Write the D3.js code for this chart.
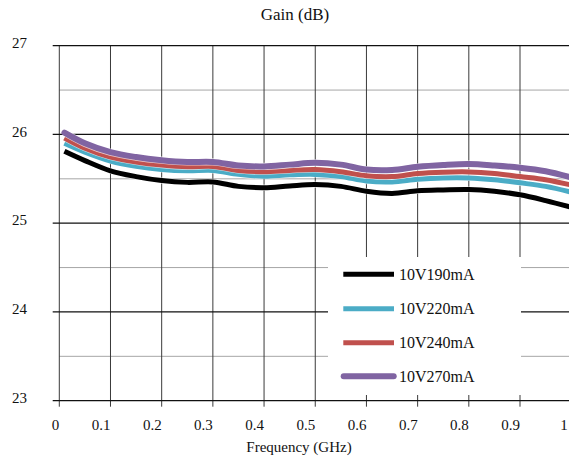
<!DOCTYPE html>
<html>
<head>
<meta charset="utf-8">
<script src="https://cdn.jsdelivr.net/npm/d3@7"></script>
<style>
  html, body { margin: 0; padding: 0; background: #fff; }
  svg { display: block; }
  svg text { font-family: "Liberation Serif", "DejaVu Serif", "Times New Roman", serif; }
</style>
</head>
<body>
<svg id="chart" width="569" height="466" font-family="Liberation Serif, DejaVu Serif, serif"></svg>
<script>
// Frequency sweep points (GHz)
const freq = [0.01, 0.05, 0.1, 0.15, 0.2, 0.25, 0.3, 0.35, 0.4, 0.45, 0.5,
              0.55, 0.6, 0.65, 0.7, 0.75, 0.8, 0.85, 0.9, 0.95, 1.0];

// Gain (dB) per bias condition
const gain190 = [25.81, 25.705, 25.59, 25.525, 25.48, 25.46, 25.465, 25.415, 25.40, 25.42, 25.435,
                 25.415, 25.36, 25.335, 25.365, 25.375, 25.38, 25.36, 25.32, 25.255, 25.18];
const gain220 = [25.90, 25.80, 25.70, 25.64, 25.605, 25.59, 25.595, 25.55, 25.53, 25.545, 25.55,
                 25.527, 25.475, 25.465, 25.495, 25.51, 25.51, 25.49, 25.455, 25.415, 25.35];
const gain240 = [25.96, 25.845, 25.745, 25.69, 25.655, 25.635, 25.64, 25.595, 25.58, 25.595, 25.605,
                 25.58, 25.535, 25.525, 25.56, 25.575, 25.578, 25.56, 25.525, 25.49, 25.43];
const gain270 = [26.02, 25.90, 25.80, 25.745, 25.71, 25.69, 25.69, 25.65, 25.64, 25.66, 25.68,
                 25.66, 25.605, 25.60, 25.635, 25.655, 25.666, 25.65, 25.625, 25.585, 25.515];

const seriesNames = ["10V190mA", "10V220mA", "10V240mA", "10V270mA"];
const seriesColors = ["#000000", "#4bacc6", "#c0504d", "#8064a2"];

const xTicks = [0, 0.1, 0.2, 0.3, 0.4, 0.5, 0.6, 0.7, 0.8, 0.9, 1];
const xTickLabels = ["0", "0.1", "0.2", "0.3", "0.4", "0.5", "0.6", "0.7", "0.8", "0.9", "1"];
const yMajor = [23, 24, 25, 26, 27];
const yMinor = [23.5, 24.5, 25.5, 26.5];

const series = [gain190, gain220, gain240, gain270].map((vals, i) => ({
  name: seriesNames[i],
  color: seriesColors[i],
  points: freq.map((f, j) => ({ f, g: vals[j] }))
}));

const svg = d3.select("#chart");
const plotLeft = 59.3, plotRight = 571.2, plotTop = 45.7, plotBottom = 400.7;

const x = d3.scaleLinear().domain([0, 1]).range([plotLeft, plotRight]);
const y = d3.scaleLinear().domain([23, 27]).range([plotBottom, plotTop]);

// Title
svg.append("text")
  .attr("x", 295).attr("y", 20)
  .attr("text-anchor", "middle")
  .attr("font-size", 17)
  .attr("fill", "#111")
  .text("Gain (dB)");

// Minor horizontal grid
svg.append("g").selectAll("line").data(yMinor).join("line")
  .attr("x1", plotLeft).attr("x2", 569)
  .attr("y1", d => y(d)).attr("y2", d => y(d))
  .attr("stroke", "#a6a6a6").attr("stroke-width", 1);

// Vertical grid (extends below the axis as tick marks)
svg.append("g").selectAll("line").data(xTicks).join("line")
  .attr("x1", d => x(d)).attr("x2", d => x(d))
  .attr("y1", plotTop).attr("y2", plotBottom + 6)
  .attr("stroke", "#3a3a3a").attr("stroke-width", 1);

// Major horizontal grid (extends left of the plot as tick marks)
svg.append("g").selectAll("line").data(yMajor).join("line")
  .attr("x1", plotLeft - 6.6).attr("x2", 569)
  .attr("y1", d => y(d)).attr("y2", d => y(d))
  .attr("stroke", "#111").attr("stroke-width", 1.2);

// Y tick labels
svg.append("g").selectAll("text").data(yMajor).join("text")
  .attr("x", 27).attr("y", d => y(d) - 3)
  .attr("dy", "0.35em")
  .attr("text-anchor", "end")
  .attr("font-size", 15)
  .attr("fill", "#111")
  .text(d => d);

// X tick labels (right-aligned on each gridline)
svg.append("g").selectAll("text").data(xTicks).join("text")
  .attr("x", (d, i) => x(d) - (i === xTicks.length - 1 ? 3.5 : 0))
  .attr("y", 430)
  .attr("text-anchor", "end")
  .attr("font-size", 15)
  .attr("fill", "#111")
  .text((d, i) => xTickLabels[i]);

// Axis title
svg.append("text")
  .attr("x", 299).attr("y", 452)
  .attr("text-anchor", "middle")
  .attr("font-size", 15)
  .attr("fill", "#111")
  .text("Frequency (GHz)");

// Data lines
const line = d3.line()
  .x(d => x(d.f))
  .y(d => y(d.g))
  .curve(d3.curveCatmullRom.alpha(0.5));

const lines = svg.append("g");
series.forEach((s, i) => {
  lines.append("path")
    .datum(s.points)
    .attr("fill", "none")
    .attr("stroke", "#ffffff")
    .attr("stroke-opacity", 0.7)
    .attr("stroke-width", i === 3 ? 7.2 : 6.2)
    .attr("stroke-linejoin", "round")
    .attr("d", line);
  lines.append("path")
    .datum(s.points)
    .attr("fill", "none")
    .attr("stroke", s.color)
    .attr("stroke-width", i === 3 ? 6 : 5)
    .attr("stroke-linecap", i === 3 ? "round" : "butt")
    .attr("stroke-linejoin", "round")
    .attr("d", line);
});

// Legend
const legend = svg.append("g");
legend.append("rect")
  .attr("x", 328).attr("y", 257)
  .attr("width", 193).attr("height", 138)
  .attr("fill", "#ffffff");

const rowY = [274.3, 308.7, 342.7, 376.3];
series.forEach((s, i) => {
  legend.append("line")
    .attr("x1", i === 3 ? 343.7 : 343.3).attr("x2", i === 3 ? 393.7 : 394)
    .attr("y1", rowY[i]).attr("y2", rowY[i])
    .attr("stroke", s.color)
    .attr("stroke-width", i === 3 ? 6 : 5)
    .attr("stroke-linecap", i === 3 ? "round" : "butt");
  legend.append("text")
    .attr("x", 399).attr("y", rowY[i])
    .attr("dy", "0.35em")
    .attr("font-size", 16)
    .attr("fill", "#111")
    .text(s.name);
});
</script>
</body>
</html>
